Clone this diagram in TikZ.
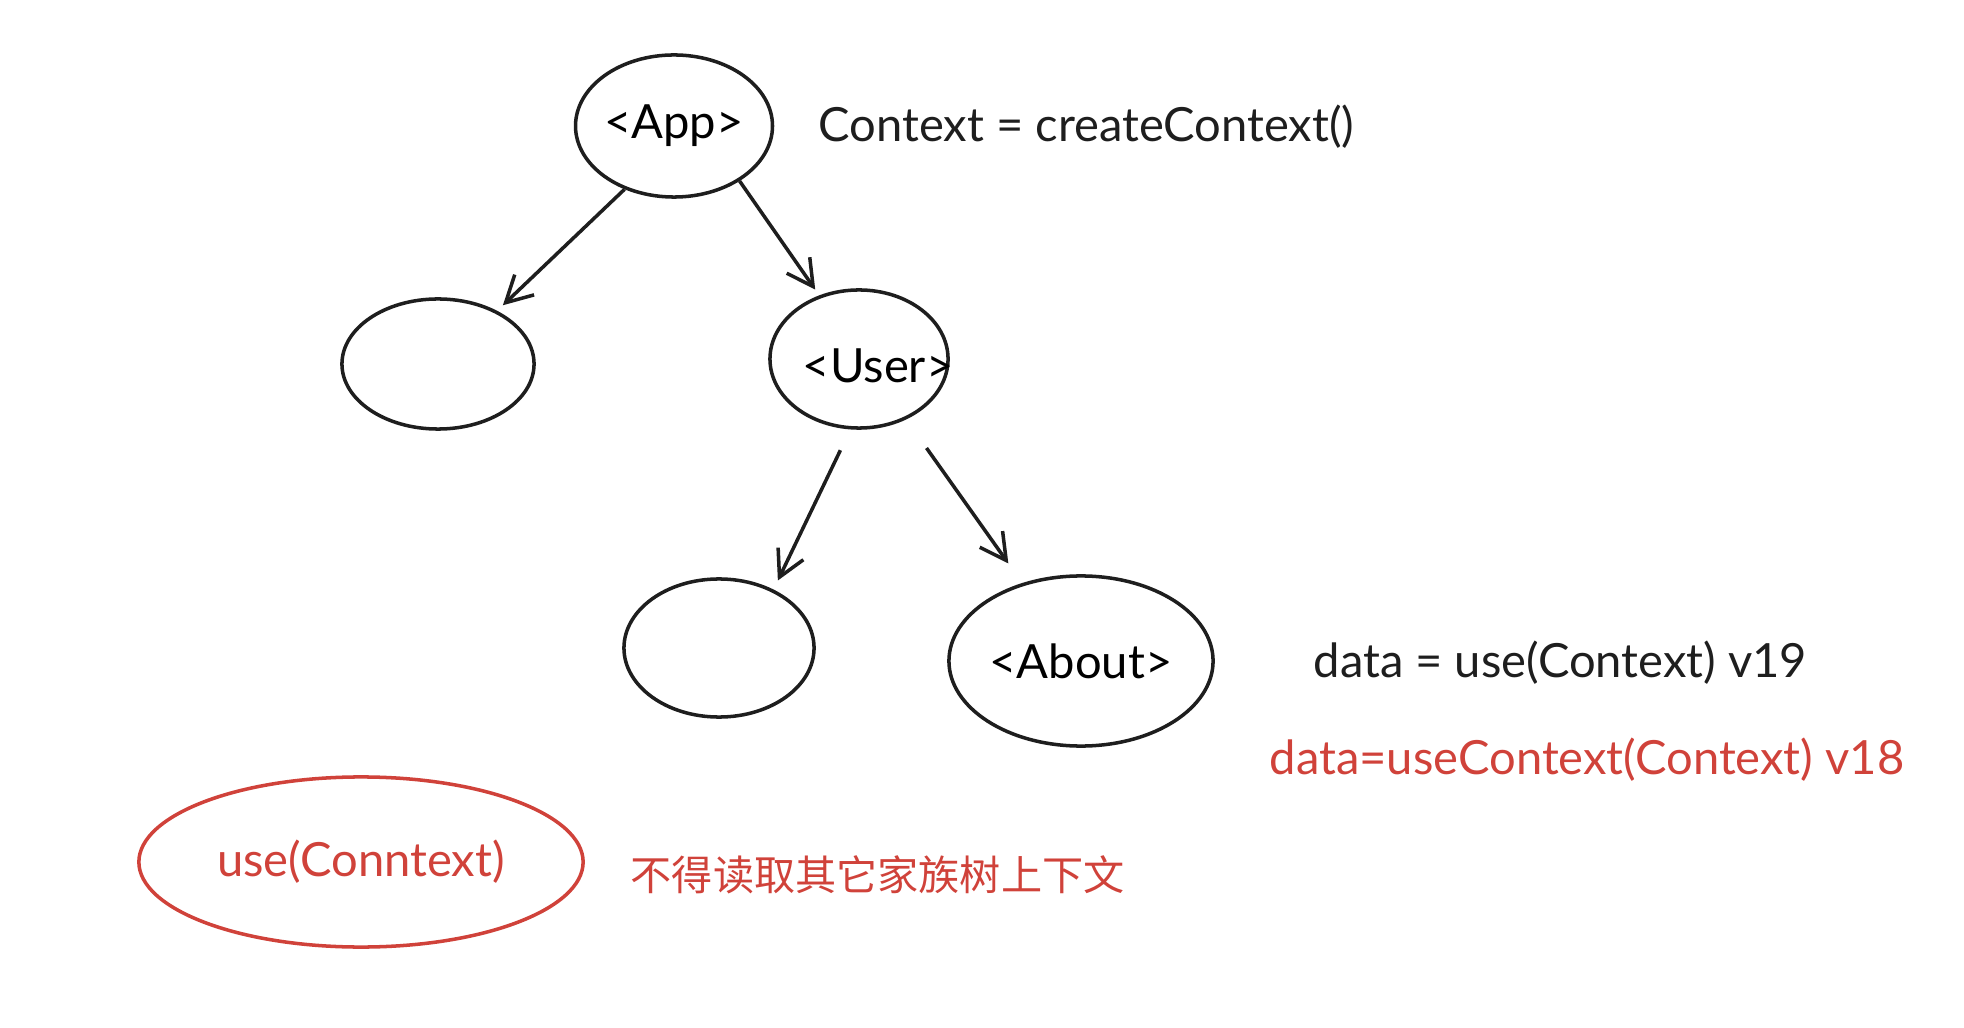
\documentclass[tikz,border=0pt]{standalone}
\usepackage{fontspec}
\setmainfont{Lato}
\newfontfamily\cjk{Noto Sans CJK SC}
\usetikzlibrary{arrows.meta,shapes.geometric}
\definecolor{inkred}{RGB}{208,66,58}
\definecolor{ink}{RGB}{30,30,30}
\begin{document}
\begin{tikzpicture}[x=0.01cm,y=-0.01cm,
  bubble/.style={draw=ink,ellipse,line width=1pt,inner sep=0pt,font=\fontsize{13.4}{16}\selectfont},
  note/.style={anchor=west,inner sep=0pt,text=ink,font=\fontsize{13.4}{16}\selectfont},
  arr/.style={draw=ink,line width=1pt,-{Straight Barb[length=2.6mm,width=2.8mm]}}]
  \useasboundingbox (0,0) rectangle (1964,1028);
  \node [bubble,minimum width=1.94cm,minimum height=1.42cm] (app) at (674,126) {<App>};
  \node [bubble,minimum width=1.92cm,minimum height=1.30cm] (left) at (438,364) {};
  \node [bubble,minimum width=1.78cm,minimum height=1.38cm,
    label={[font=\fontsize{13.4}{16}\selectfont,xshift=0.19cm,yshift=-0.07cm]center:<User>}] (user) at (859,359) {};
  \node [bubble,minimum width=1.90cm,minimum height=1.38cm] (lower) at (719,648) {};
  \node [bubble,minimum width=2.64cm,minimum height=1.70cm] (about) at (1081,661) {<About>};
  \node [bubble,draw=inkred,text=inkred,minimum width=4.44cm,minimum height=1.70cm] (usectx) at (361,862) {use(Conntext)};
  \node [note] (create) at (818,127) {Context = createContext()};
  \node [note] (v19) at (1313,663) {data = use(Context) v19};
  \node [note,text=inkred] (v18) at (1269,760) {data=useContext(Context) v18};
  \node [note,text=inkred,font=\cjk\fontsize{11.7}{14}\selectfont] (rule) at (630,875) {不得读取其它家族树上下文};
  \draw [arr,shorten >=0.08cm] (app.-128) -- (left.42);
  \draw [arr,shorten >=0.07cm] (app.-40) -- (user.122);
  \draw [arr,shorten <=0.23cm,shorten >=0.1cm] (user.-97) -- (lower.47);
  \draw [arr,shorten <=0.35cm,shorten >=0.24cm] (user.-52) -- (about.127);
\end{tikzpicture}
\end{document}
